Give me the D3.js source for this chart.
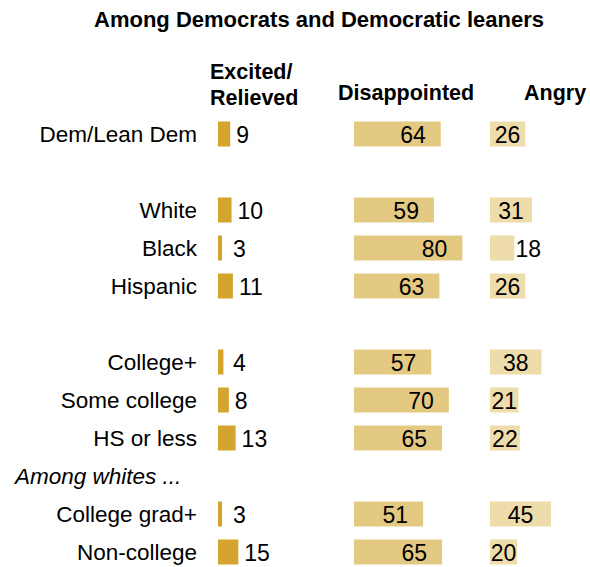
<!DOCTYPE html>
<html>
<head>
<meta charset="utf-8">
<script src="https://cdn.jsdelivr.net/npm/d3@7"></script>
<style>
  html, body { margin: 0; padding: 0; background: #fff; }
  svg { display: block; }
  text { font-family: "Liberation Sans", Arial, sans-serif; fill: #000; }
</style>
</head>
<body>
<div id="chart"></div>
<script>
// Reactions among Democrats and Democratic leaners, % by group
const groups = ["Dem/Lean Dem", "White", "Black", "Hispanic", "College+", "Some college", "HS or less", "College grad+", "Non-college"];
const excited = [9, 10, 3, 11, 4, 8, 13, 3, 15];
const disappointed = [64, 59, 80, 63, 57, 70, 65, 51, 65];
const angry = [26, 31, 18, 26, 38, 21, 22, 45, 20];
const columnNames = ["Excited/Relieved", "Disappointed", "Angry"];
const title = "Among Democrats and Democratic leaners";
const subgroupNote = "Among whites ...";

const width = 590, height = 567;
const svg = d3.select("#chart").append("svg")
  .attr("width", width).attr("height", height);

// Vertical slots: group rows plus spacer slots between blocks
const slots = ["Dem/Lean Dem", "gap-1", "White", "Black", "Hispanic", "gap-2",
  "College+", "Some college", "HS or less", "note", "College grad+", "Non-college"];
const y = d3.scalePoint().domain(slots).range([134, 552]);
const barH = 25;

// Shared value scale, one panel per reaction
const x = d3.scaleLinear().domain([0, 100]).range([0, 135.5]);
const panelX = [218, 354, 490];
const colors = ["#D3A52F", "#E3C982", "#EEDDAA"];
const seriesList = [excited, disappointed, angry];

const rows = groups.map((g, i) => ({ group: g, vals: seriesList.map(s => s[i]) }));

// Title
svg.append("text")
  .attr("x", 319).attr("y", 27)
  .attr("text-anchor", "middle")
  .style("font-weight", "bold").style("font-size", "22px")
  .text(title);

// Column headers
const hdr = svg.append("g").style("font-weight", "bold").style("font-size", "21.5px");
const [exc, rel] = columnNames[0].split("/");
hdr.append("text").attr("x", 210).attr("y", 79).text(exc + "/");
hdr.append("text").attr("x", 210).attr("y", 105).text(rel);
hdr.append("text").attr("x", 338).attr("y", 100).text(columnNames[1]);
hdr.append("text").attr("x", 524).attr("y", 100).text(columnNames[2]);

// Row labels
svg.append("g").selectAll("text").data(rows).join("text")
  .attr("x", 197).attr("y", d => y(d.group))
  .attr("dy", "0.37em")
  .attr("text-anchor", "end")
  .style("font-size", "22.5px")
  .text(d => d.group);

svg.append("text")
  .attr("x", 15).attr("y", y("note")).attr("dy", "0.37em")
  .style("font-size", "22.5px").style("font-style", "italic")
  .text(subgroupNote);

// Bars and value labels per panel
seriesList.forEach((series, k) => {
  const g = svg.append("g").attr("transform", `translate(${panelX[k]},0)`);
  g.selectAll("rect").data(rows).join("rect")
    .attr("x", 0)
    .attr("y", d => y(d.group) - barH / 2)
    .attr("width", d => x(d.vals[k]))
    .attr("height", barH)
    .attr("fill", colors[k]);

  const labels = g.selectAll("text").data(rows).join("text")
    .attr("y", d => y(d.group))
    .attr("dy", "0.37em")
    .style("font-size", "23px")
    .text(d => d.vals[k]);

  if (k === 0) {
    // Outside the bar, with a minimum offset so thin bars keep clear
    labels.attr("x", d => Math.max(x(d.vals[k]), 9) + 6);
  } else if (k === 1) {
    labels.attr("x", d => x(d.vals[k]) - 15).attr("text-anchor", "end");
  } else {
    labels.each(function (d) {
      const w = this.getComputedTextLength();
      const bw = x(d.vals[k]);
      const t = d3.select(this);
      if (bw >= w + 1) t.attr("x", bw / 2).attr("text-anchor", "middle");
      else t.attr("x", bw + 1).attr("text-anchor", "start");
    });
  }
});
</script>
</body>
</html>
